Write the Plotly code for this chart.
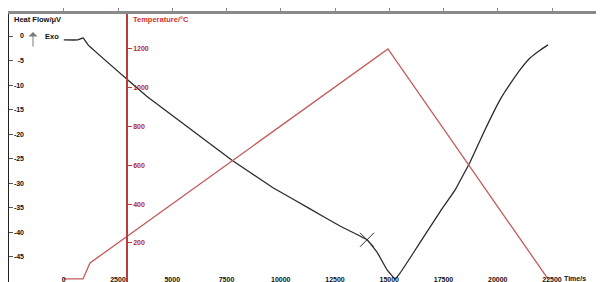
import plotly.graph_objects as go

# ---------------- data ----------------
time_dsc = [0, 650, 890, 1120, 2915, 3975, 6279, 7753, 9643, 11348, 12730,
            13975, 14435, 14896, 15265, 15495, 16048, 16647, 17339, 18030, 18721,
            19412, 20104, 20565, 21025, 21486, 21947, 22316]
heat_flow = [-0.8, -0.8, -0.4, -1.8, -8.8, -12.8, -20.4, -25.3, -30.9, -35.2, -38.7,
             -41.5, -44.0, -47.6, -49.5, -48.3, -44.6, -40.5, -35.8, -31.4, -25.7,
             -19.1, -13.0, -9.8, -6.9, -4.5, -2.9, -1.8]

time_temp = [0, 890, 1025, 1210, 14940, 22320]
temperature = [15, 15, 50, 97, 1200, 14]

mark_time = [13975]
mark_hf = [-41.5]

x_ticks = [0, 2500, 5000, 7500, 10000, 12500, 15000, 17500, 20000, 22500]
hf_ticks = [0, -5, -10, -15, -20, -25, -30, -35, -40, -45]
temp_ticks = [200, 400, 600, 800, 1000, 1200]

# ---------------- layout geometry ----------------
# the page body has an 8px default margin, so the figure sits at (8, 8)
OFF = 8
W, H = 604 - OFF, 282 - OFF
ML, MR, MT, MB = 1, 2, 6, 0
PW, PH = W - ML - MR, H - MT - MB


def px(xp):
    """page pixel x -> paper coordinate"""
    return (xp - OFF - ML) / PW


def py(yp):
    """page pixel y -> paper coordinate"""
    return 1 - (yp - OFF - MT) / PH


FONT = "Liberation Sans, Arial, sans-serif"
RED_LINE = "#c45a5a"
DARK = "#2b2b2b"

x_range = [-2523, 24804]
hf_range = [-50.1, 4.48]
temp_range = [-1, 1380]

fig = go.Figure()

fig.add_trace(go.Scatter(x=time_temp, y=temperature, mode="lines",
                         line=dict(color=RED_LINE, width=1.3),
                         xaxis="x2", yaxis="y2", showlegend=False, hoverinfo="skip"))
fig.add_trace(go.Scatter(x=time_dsc, y=heat_flow, mode="lines",
                         line=dict(color=DARK, width=1.3, shape="spline", smoothing=0.2),
                         xaxis="x", yaxis="y", showlegend=False, hoverinfo="skip"))
fig.add_trace(go.Scatter(x=mark_time, y=mark_hf, mode="markers",
                         marker=dict(symbol="x-thin", size=14, line=dict(width=1, color=DARK)),
                         xaxis="x", yaxis="y", showlegend=False, hoverinfo="skip"))

tick_font = dict(family=FONT, size=7, color="#111", weight="bold")

fig.update_layout(
    width=W, height=H,
    margin=dict(l=ML, r=MR, t=MT, b=MB, pad=0, autoexpand=False),
    paper_bgcolor="white", plot_bgcolor="white",
    showlegend=False,
    xaxis=dict(range=x_range, tickvals=x_ticks, ticktext=[str(v) for v in x_ticks],
               showgrid=False, zeroline=False, showline=False, ticks="",
               ticklabelposition="inside", ticklabelstandoff=-4, automargin=False,
               tickfont=tick_font, anchor="y"),
    xaxis2=dict(range=x_range, tickvals=x_ticks, overlaying="x", side="top", anchor="y",
                showgrid=False, zeroline=False, showline=True, linecolor="#8a8a8a",
                linewidth=3, ticks="outside", ticklen=3, tickcolor="#8a8a8a",
                showticklabels=False, automargin=False),
    yaxis=dict(range=hf_range, tickvals=hf_ticks, showgrid=False, zeroline=False,
               showline=True, linecolor="#222", linewidth=2, ticks="inside",
               ticklen=4, tickcolor="#555", showticklabels=False, anchor="x",
               automargin=False),
    yaxis3=dict(range=hf_range, tickvals=hf_ticks, ticktext=[str(v) for v in hf_ticks],
                overlaying="y", anchor="free", position=px(24), side="left",
                showgrid=False, zeroline=False, showline=False, ticks="",
                tickfont=tick_font, automargin=False),
    yaxis2=dict(range=temp_range, tickvals=temp_ticks, overlaying="y", anchor="free",
                position=px(127), side="right", showgrid=False, zeroline=False,
                showline=True, linecolor="#b83c3c", linewidth=1.5, ticks="outside",
                ticklen=4, tickcolor="#b83c3c", automargin=False,
                tickfont=dict(family=FONT, size=7, color="#b02a2a", weight="bold")),
)

# invisible carrier so the label-only axis is drawn
fig.add_trace(go.Scatter(x=[None], y=[None], xaxis="x", yaxis="y3",
                         showlegend=False, hoverinfo="skip"))

fig.add_shape(type="line", xref="paper", yref="paper", x0=1, x1=1, y0=0, y1=1,
              line=dict(color="#9a9a9a", width=1))

ann_font = dict(family=FONT, size=7.5, color="#111", weight="bold")
fig.add_annotation(text="Heat Flow/μV", x=px(12), y=py(19), xref="paper", yref="paper",
                   xanchor="left", yanchor="middle", showarrow=False, font=ann_font)
fig.add_annotation(text="Temperature/°C", x=px(131), y=py(19), xref="paper", yref="paper",
                   xanchor="left", yanchor="middle", showarrow=False,
                   font=dict(family=FONT, size=7.5, color="#d03030", weight="bold"))
fig.add_annotation(text="Exo", x=px(43), y=py(36), xref="paper", yref="paper",
                   xanchor="left", yanchor="middle", showarrow=False, font=ann_font)
fig.add_annotation(text="", x=px(33), y=py(32), xref="paper", yref="paper",
                   showarrow=True, ax=0, ay=16, arrowhead=1, arrowsize=1.5,
                   arrowwidth=1, arrowcolor="#7a7a7a")
fig.add_annotation(text="Time/s", x=px(588), y=py(278), xref="paper", yref="paper",
                   xanchor="right", yanchor="middle", showarrow=False,
                   font=dict(family=FONT, size=7, color="#111", weight="bold"))

fig.write_html("out.html")
